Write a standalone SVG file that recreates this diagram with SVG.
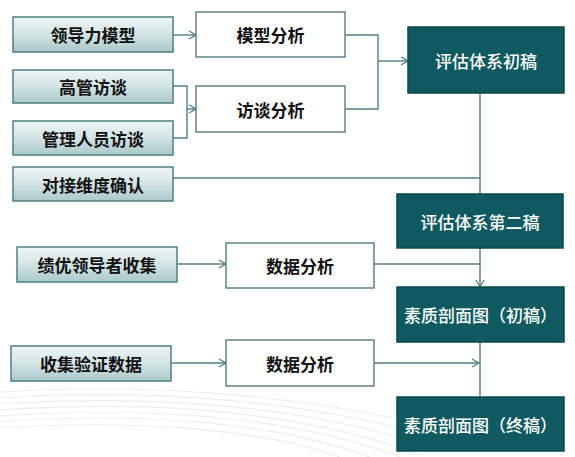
<svg xmlns="http://www.w3.org/2000/svg" width="575" height="457" viewBox="0 0 575 457">
<defs>
<linearGradient id="lg" x1="0" y1="0" x2="0" y2="1">
<stop offset="0" stop-color="#eef5f5"/>
<stop offset="0.5" stop-color="#d3e4e5"/>
<stop offset="1" stop-color="#a9c8ca"/>
</linearGradient>
<marker id="ar" markerWidth="10" markerHeight="10" refX="8" refY="5" orient="auto" markerUnits="userSpaceOnUse">
<path d="M1,1 L8,5 L1,9" fill="none" stroke="#4f7f84" stroke-width="1.3"/>
</marker>
</defs>
<style>
.src{fill:url(#lg);stroke:#4f7f84;stroke-width:1.5}
.ana{fill:#ffffff;stroke:#5f8488;stroke-width:1.5}
.drk{fill:#0e5a60;stroke:#0a474c;stroke-width:1.5}
.t{font-family:"Noto Sans CJK SC","Noto Sans CJK JP",sans-serif;font-size:17px;font-weight:bold;text-anchor:middle;dominant-baseline:central;fill:#111}
.tw{fill:#ffffff;font-weight:500}
.c{fill:none;stroke:#4f7f84;stroke-width:1.4}
.bg{fill:none;stroke:#eeeeee;stroke-width:1.2}
</style>
<rect width="575" height="457" fill="#ffffff"/>
<g id="background">
<path class="bg" d="M0,392 C150,382 330,395 480,440"/>
<path class="bg" d="M0,398 C150,388 320,400 460,445"/>
<path class="bg" d="M0,404 C150,394 310,405 440,450"/>
<path class="bg" d="M0,410 C150,400 300,410 420,455"/>
<path class="bg" d="M0,416 C140,406 290,415 400,457"/>
<path class="bg" d="M0,422 C130,412 270,420 370,457"/>
<path class="bg" d="M0,428 C120,420 250,426 340,457"/>
</g>
<g id="connectors">
<path class="c" d="M173,35 H196" marker-end="url(#ar)"/>
<path class="c" d="M173,86 H187 V138 H173"/>
<path class="c" d="M187,109 H196" marker-end="url(#ar)"/>
<path class="c" d="M345,35 H378 V109 H345"/>
<path class="c" d="M378,61 H408" marker-end="url(#ar)"/>
<path class="c" d="M480,93 V194"/>
<path class="c" d="M173,178 H480"/>
<path class="c" d="M177,264 H226" marker-end="url(#ar)"/>
<path class="c" d="M374,264 H480"/>
<path class="c" d="M480,248 V287" marker-end="url(#ar)"/>
<path class="c" d="M480,342 V397"/>
<path class="c" d="M171,363 H226" marker-end="url(#ar)"/>
<path class="c" d="M374,363 H479" marker-end="url(#ar)"/>
</g>
<g id="n1"><rect class="src" x="13" y="17" width="160" height="35"/><text class="t" x="93" y="34.5">领导力模型</text></g>
<g id="n2"><rect class="src" x="13" y="70" width="160" height="33"/><text class="t" x="93" y="86.5">高管访谈</text></g>
<g id="n3"><rect class="src" x="13" y="121" width="160" height="34"/><text class="t" x="93" y="138">管理人员访谈</text></g>
<g id="n4"><rect class="src" x="13" y="167" width="160" height="34"/><text class="t" x="93" y="184">对接维度确认</text></g>
<g id="n5"><rect class="src" x="17" y="247" width="160" height="35"/><text class="t" x="97" y="264.5">绩优领导者收集</text></g>
<g id="n6"><rect class="src" x="11" y="346" width="160" height="35"/><text class="t" x="91" y="363.5">收集验证数据</text></g>
<g id="a1"><rect class="ana" x="196" y="12" width="149" height="45"/><text class="t" x="270.5" y="34.5">模型分析</text></g>
<g id="a2"><rect class="ana" x="196" y="86" width="149" height="46"/><text class="t" x="270.5" y="109">访谈分析</text></g>
<g id="a3"><rect class="ana" x="226" y="243" width="148" height="45"/><text class="t" x="300" y="265.5">数据分析</text></g>
<g id="a4"><rect class="ana" x="226" y="340" width="148" height="46"/><text class="t" x="300" y="363">数据分析</text></g>
<g id="d1"><rect class="drk" x="408" y="27" width="156" height="66"/><text class="t tw" x="486" y="60">评估体系初稿</text></g>
<g id="d2"><rect class="drk" x="397" y="194" width="166" height="54"/><text class="t tw" x="480" y="221">评估体系第二稿</text></g>
<g id="d3"><rect class="drk" x="397" y="287" width="167" height="55"/><text class="t tw" x="480.5" y="314.5">素质剖面图（初稿）</text></g>
<g id="d4"><rect class="drk" x="397" y="397" width="167" height="54"/><text class="t tw" x="480.5" y="424">素质剖面图（终稿）</text></g>
</svg>
